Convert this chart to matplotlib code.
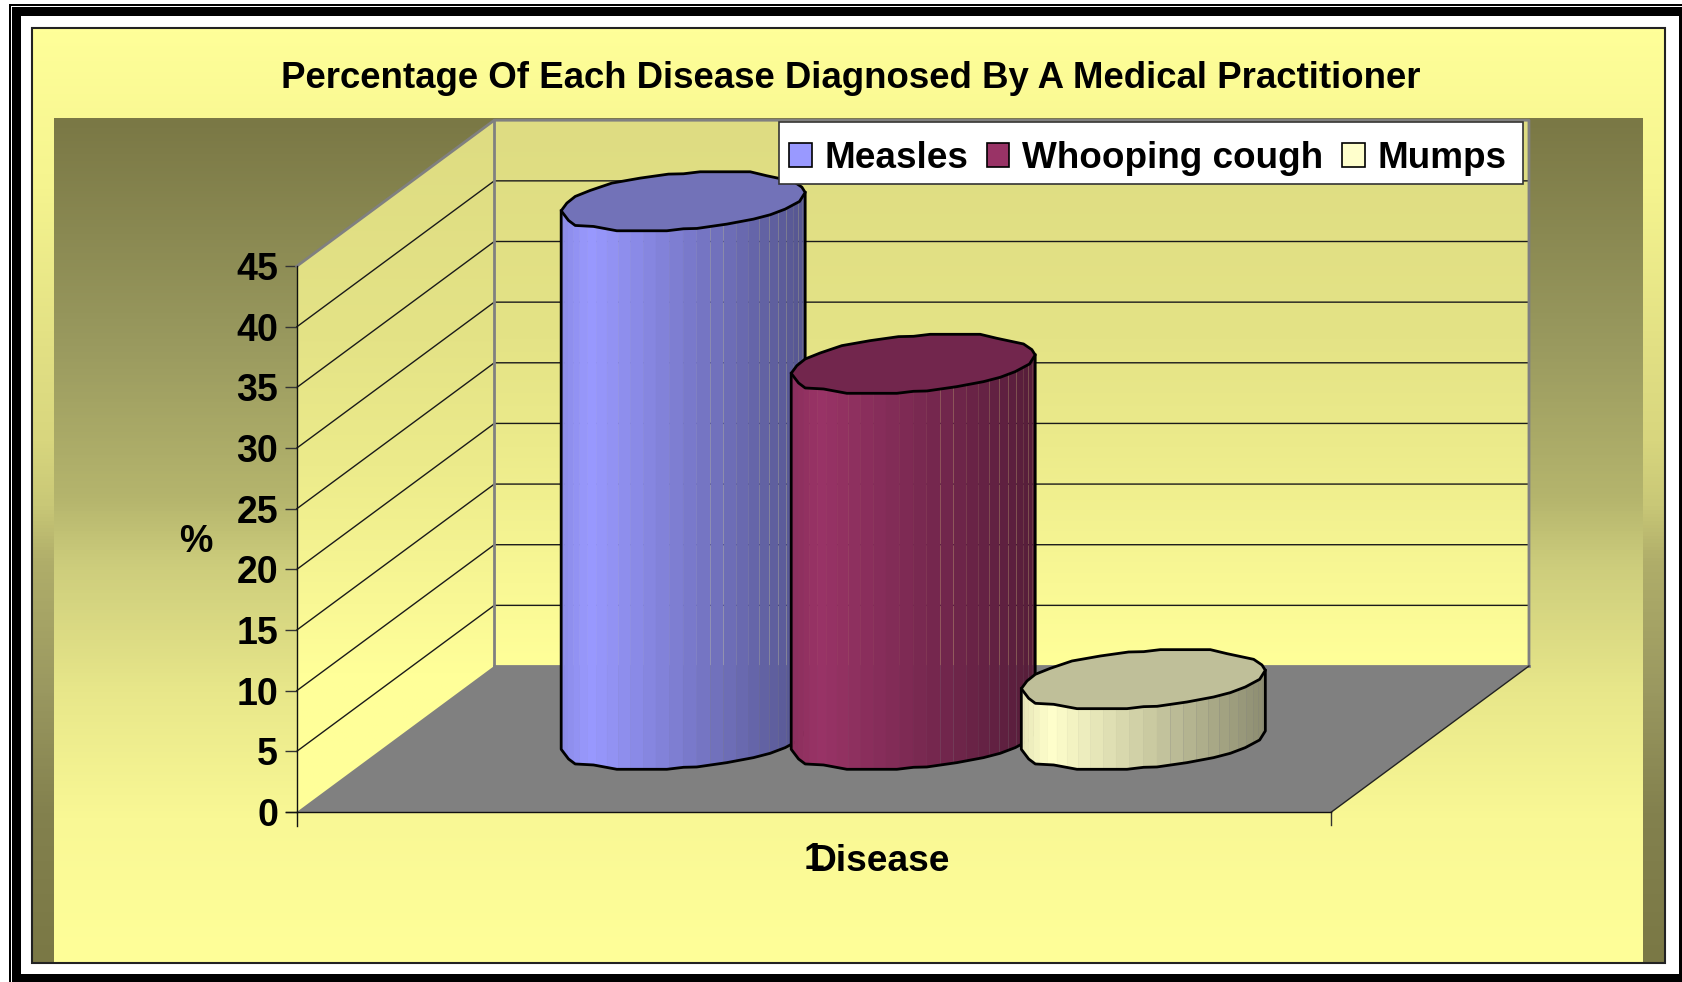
import numpy as np
import matplotlib
matplotlib.use("Agg")
import matplotlib.pyplot as plt
from matplotlib.patches import Polygon, Rectangle, Patch
from matplotlib.colors import LinearSegmentedColormap, to_rgb

# ---- data ----
series_names = ["Measles", "Whooping cough", "Mumps"]
series_values = [44.4, 31.0, 5.0]
side_colors = ["#9999FF", "#993366", "#FFFFCC"]
dark_colors = ["#55558E", "#551D39", "#8C8C70"]
top_colors = ["#7272B8", "#72264D", "#BFBF99"]
y_ticks = [0, 5, 10, 15, 20, 25, 30, 35, 40, 45]
category_labels = ["1"]
title_text = "Percentage Of Each Disease Diagnosed By A Medical Practitioner"
x_title = "Disease"
y_title = "%"

FONT = "Liberation Sans"
W, H = 1683, 982
S = W / 1568.0
YELLOW = "#FFFF99"
DARK = "#7A7845"

fig = plt.figure(figsize=(W / 100, H / 100), dpi=100, facecolor="white")

# background layer in shrunk-pixel units
bg = fig.add_axes([0, 0, 1, 1], zorder=0)
bg.set_xlim(0, W / S)
bg.set_ylim(H / S, 0)
bg.axis("off")


def rect(x0, y0, x1, y1, **kw):
    bg.add_patch(Rectangle((x0, y0), x1 - x0, y1 - y0, **kw))


def grad(x0, y0, x1, y1, stops, clip=None):
    cm = LinearSegmentedColormap.from_list("g", stops)
    im = bg.imshow(np.linspace(0, 1, 256)[:, None], cmap=cm, vmin=0, vmax=1,
                   extent=(x0, x1, y1, y0), aspect="auto", zorder=1)
    if clip is not None:
        p = Polygon(clip, transform=bg.transData, closed=True)
        im.set_clip_path(p)
    bg.set_xlim(0, W / S)
    bg.set_ylim(H / S, 0)
    return im


# frame
rect(8.4, 3.7, W / S + 5, H / S + 5, fc="black", ec="none", zorder=0)
rect(10.3, 5.6, W / S + 5, H / S + 5, fc="white", ec="none", zorder=0)
rect(11.2, 6.5, W / S + 5, H / S + 5, fc="black", ec="none", zorder=0)
rect(19.6, 15, 1564.3, 907.5, fc="white", ec="none", zorder=0)

# chart area gradient + plot-area gradient
grad(30, 26, 1551.5, 897, [(0, YELLOW), (0.17, "#F5F48F"), (0.34, "#E2E084"), (0.44, "#D8D67E"),
                           (0.51, "#C9C877"), (0.57, "#B0AE6A"), (0.71, "#9A9860"),
                           (0.84, "#83814E"), (1, DARK)])
grad(50, 110, 1529.5, 897, [(0, DARK), (0.27, "#9A9A5F"), (0.45, "#B5B56D"), (0.53, "#CDCD7C"),
                            (0.68, "#E8E78A"), (0.83, "#F9F895"), (1, YELLOW)])
bg.add_patch(Rectangle((30, 26), 1521.5, 871, fc="none", ec="#222222", lw=1.5, zorder=2))

# main data axes: the y axis carries the chart's values
X0, X1 = 276.5, 1240.5
Y0, Y45 = 756.5, 248
ax = fig.add_axes([X0 * S / W, 1 - Y0 * S / H, (X1 - X0) * S / W, (Y0 - Y45) * S / H], zorder=2)
ax.patch.set_alpha(0)
ax.set_xlim(X0, X1)
ax.set_ylim(0, 45)
unit = (Y0 - Y45) / 45.0


def V(py):
    return (Y0 - py) / unit


DX, DY = 184, 136  # depth of the box, in shrunk pixels
dv = DY / unit

# walls (gradient clipped to shape, drawn in bg so it lies under axes)
back_top, back_bot = Y45 - DY, Y0 - DY
wall = [(0, "#DEDC82"), (0.4, "#E4E386"), (0.6, "#ECEB8B"), (0.85, "#F9F895"), (1, YELLOW)]
grad(X0 + DX, back_top, X1 + DX, back_bot, wall)
side_poly = [(X0, Y45), (X0 + DX, back_top), (X0 + DX, back_bot), (X0, Y0)]
grad(X0, back_top, X0 + DX, Y0, [(0, "#DEDC82"), (0.32, "#E4E386"), (0.5, "#ECEB8B"),
                                 (0.7, "#F9F895"), (0.8, YELLOW), (1, YELLOW)], clip=side_poly)

# floor
ax.add_patch(Polygon([(X0, 0), (X0 + DX, dv), (X1 + DX, dv), (X1, 0)], closed=True,
                     fc="#808080", ec="none", zorder=1, clip_on=False))
# gridlines on walls
for v in y_ticks[1:-1]:
    ax.plot([X0, X0 + DX, X1 + DX], [v, v + dv, v + dv], color="#1a1a1a", lw=1.0, zorder=1.5,
            clip_on=False, solid_joinstyle="miter")
# wall edges
ax.plot([X0, X0 + DX, X1 + DX, X1 + DX], [45, 45 + dv, 45 + dv, dv], color="#808080", lw=2.0,
        zorder=1.6, clip_on=False)
ax.plot([X0 + DX, X0 + DX], [45 + dv, dv], color="#808080", lw=2.0, zorder=1.6, clip_on=False)
ax.plot([X0 + DX, X1 + DX], [dv, dv], color="#808080", lw=2.0, zorder=1.6, clip_on=False)
ax.plot([X1, X1 + DX], [0, dv], color="#222222", lw=1.0, zorder=1.6, clip_on=False)

# cylinders: cross-section outline (shape only), right point -> bottom -> left point -> top
centers = [636.5, 850.8, 1065.2]
base_py = 689.4
A = 113.7
cap_dx = (np.array([795, 778, 735, 690, 640, 560, 470, 430, 380, 230, 160, 105, 85, 63,
                    80, 105, 150, 215, 300, 385, 430, 480, 630, 680, 760, 785, 795]) - 429) / 3.22
cap_dy = (np.array([128, 155, 178, 195, 208, 223, 236, 237, 243, 243, 230, 227, 212, 183,
                    160, 140, 122, 100, 85, 73, 72, 66, 66, 78, 95, 112, 128]) - 155) / 3.22
N_FRONT = 14  # first 14 points form the front arc
front_x = cap_dx[:N_FRONT][::-1]
front_y = cap_dy[:N_FRONT][::-1]

for i, val in enumerate(series_values):
    cx = centers[i]
    cb = V(base_py)
    ct = cb + val
    z = 3 + i
    c0 = np.array(to_rgb(side_colors[i]))
    c1 = np.array(to_rgb(dark_colors[i]))
    # shaded facets of the side
    th = np.linspace(np.pi, 2 * np.pi, 29)
    fx = A * np.cos(th)
    for k in range(len(th) - 1):
        xs = np.array([fx[k], fx[k + 1]])
        dy = np.interp(xs, front_x, front_y)
        f = (xs.mean() + A) / (2 * A)
        if f < 0.12:
            col = c0 * (0.9 + 0.1 * f / 0.12)
        else:
            col = c0 + (c1 - c0) * (f - 0.12) / 0.88
        poly = [(cx + xs[0], cb - dy[0] / unit), (cx + xs[1], cb - dy[1] / unit),
                (cx + xs[1], ct - dy[1] / unit), (cx + xs[0], ct - dy[0] / unit)]
        ax.add_patch(Polygon(poly, closed=True, fc=col, ec=col if f < 0.55 else "none", lw=0.4,
                             zorder=z, clip_on=False))
    # outline of side
    ax.plot(np.r_[cx + front_x[0], cx + front_x, cx + front_x[-1]],
            np.r_[ct - front_y[0] / unit, cb - front_y / unit, ct - front_y[-1] / unit],
            color="black", lw=2.0, zorder=z + 0.1, clip_on=False, solid_joinstyle="round")
    # top cap
    ax.add_patch(Polygon(list(zip(cx + cap_dx, ct - cap_dy / unit)), closed=True, fc=top_colors[i],
                         ec="black", lw=2.0, zorder=z + 0.2, clip_on=False, joinstyle="round"))

# axes styling
for s in ("top", "right"):
    ax.spines[s].set_visible(False)
for s in ("left", "bottom"):
    ax.spines[s].set_color("#111111")
    ax.spines[s].set_linewidth(1.0)
    ax.spines[s].set_zorder(1.7)
ax.set_yticks(y_ticks)
ax.set_yticklabels([str(v) for v in y_ticks], fontfamily=FONT, fontweight="bold", fontsize=27)
ax.tick_params(axis="y", length=8.5, width=1.0, color="#333333", pad=5)
ax.set_xticks([(X0 + X1) / 2])
ax.set_xticklabels(category_labels, fontfamily=FONT, fontweight="bold", fontsize=26.7)
ax.tick_params(axis="x", length=0, pad=21.5)
# tick marks that extend beneath the baseline at both ends
ax.plot([X0, X0], [0, V(770)], color="#111111", lw=1.0, clip_on=False, zorder=1.7)
ax.plot([X1, X1], [0, V(769)], color="#333333", lw=1.0, clip_on=False, zorder=1.7)
ax.plot([266, X0], [0, 0], color="#111111", lw=1.0, clip_on=False, zorder=1.7)

ax.set_xlabel(x_title, fontfamily=FONT, fontweight="bold", fontsize=26.7)
ax.xaxis.set_label_coords((820 - X0) / (X1 - X0), -(786 - Y0) / (Y0 - Y45))
ax.set_ylabel(y_title, fontfamily=FONT, fontweight="bold", fontsize=27, rotation=0, va="center", ha="center")
ax.yaxis.set_label_coords((182 - X0) / (X1 - X0), (Y0 - 505) / (Y0 - Y45))

# title
fig.text(792.5 * S / W, 1 - 73.5 * S / H, title_text, fontfamily=FONT, fontweight="bold", fontsize=26.4,
         ha="center", va="center", color="black")

# legend: white box plus entries
ax.add_patch(Rectangle((726, V(171)), 1419 - 726, V(114) - V(171), fc="white", ec="#333333", lw=1.2,
                       zorder=19, clip_on=False))
handles = [Patch(fc=c, ec="black", lw=1.2) for c in side_colors]
leg = ax.legend(handles, series_names, ncol=3, loc="center",
                bbox_to_anchor=(((737 + 1401) / 2 - X0) / (X1 - X0), (Y0 - 147.5) / (Y0 - Y45)),
                prop={"family": FONT, "weight": "bold", "size": 26.6},
                frameon=False,
                handlelength=0.62, handleheight=0.62, handletextpad=0.34, columnspacing=0.5,
                borderpad=0.3, borderaxespad=0)
leg.set_zorder(20)

fig.savefig("out.png", dpi=100)
